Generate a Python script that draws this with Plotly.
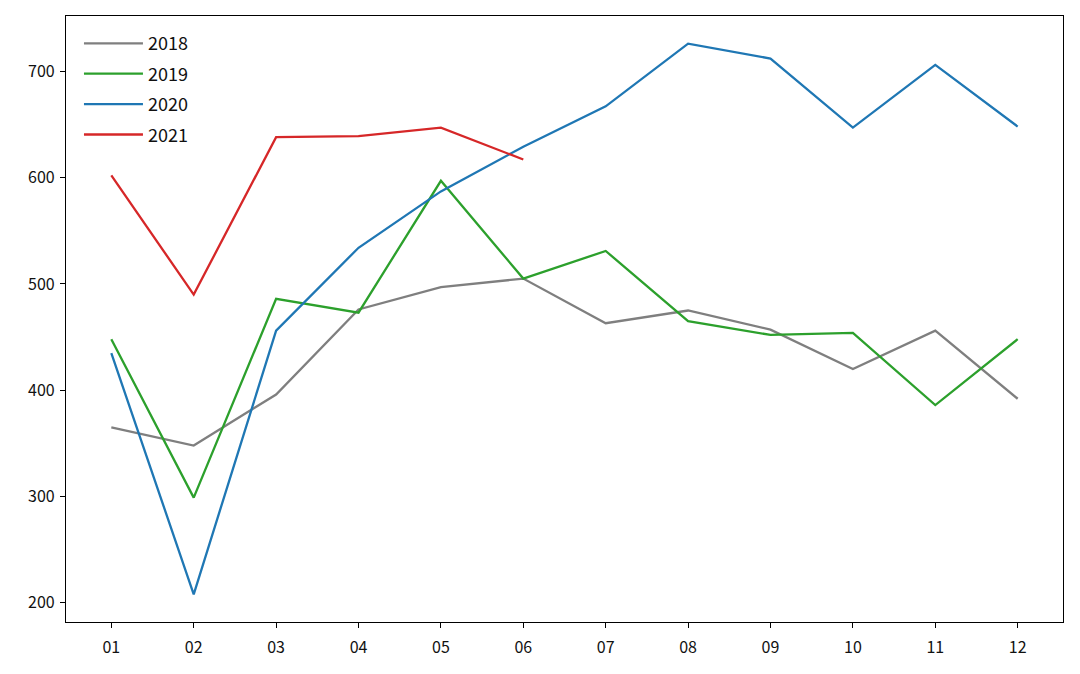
import plotly.graph_objects as go

months = ["01", "02", "03", "04", "05", "06", "07", "08", "09", "10", "11", "12"]
v2018 = [365, 348, 396, 476, 497, 505, 463, 475, 457, 420, 456, 392]
v2019 = [448, 299, 486, 473, 597, 505, 531, 465, 452, 454, 386, 448]
v2020 = [435, 208, 456, 534, 587, 629, 667, 726, 712, 647, 706, 648]
v2021 = [602, 490, 638, 639, 647, 617]

series = [
    ("2018", v2018, "#7f7f7f"),
    ("2019", v2019, "#2ca02c"),
    ("2020", v2020, "#1f77b4"),
    ("2021", v2021, "#d62728"),
]

fig = go.Figure()
for name, vals, color in series:
    fig.add_trace(go.Scatter(
        x=months[:len(vals)], y=vals, mode="lines", name=name,
        legendgroup=name,
        line=dict(color=color, width=2.3),
    ))

axis_common = dict(
    showline=True, linecolor="black", linewidth=1.2, mirror=True,
    ticks="outside", ticklen=5, tickwidth=1.2, tickcolor="black",
    showgrid=False, zeroline=False,
    tickfont=dict(size=16, color="#111111"),
)

fig.update_layout(
    width=1080, height=674,
    margin=dict(l=58, r=25, t=8, b=60),
    paper_bgcolor="white", plot_bgcolor="white",
    font=dict(family="Noto Sans CJK SC, DejaVu Sans, sans-serif", size=16, color="#111111"),
    xaxis=dict(type="category", categoryorder="array", categoryarray=months,
               range=[-0.55, 11.55], ticklabelstandoff=6, **axis_common),
    yaxis=dict(range=[182, 752], tickvals=[200, 300, 400, 500, 600, 700],
               ticklabelstandoff=2, **axis_common),
    legend=dict(x=0.013, y=0.985, xanchor="left", yanchor="top",
                bgcolor="rgba(255,255,255,0)", font=dict(size=18),
                itemwidth=59, tracegroupgap=4),
    showlegend=True,
)

fig.write_html("out.html")
